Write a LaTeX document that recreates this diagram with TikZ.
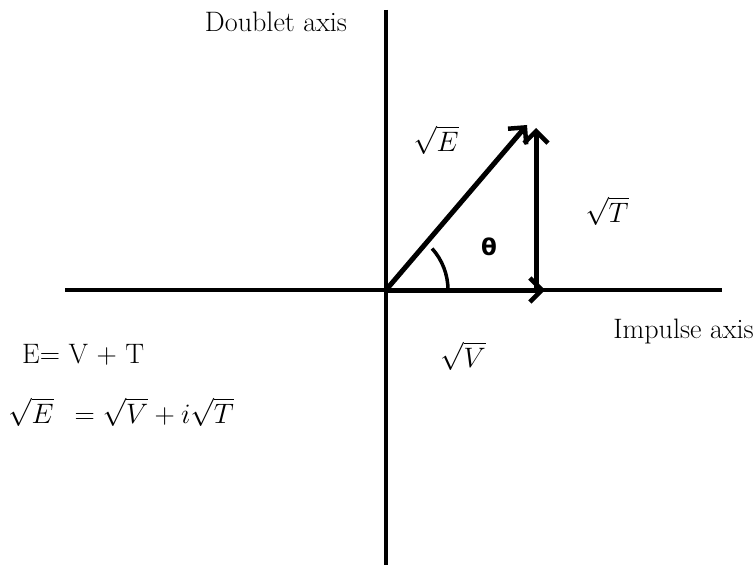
\documentclass[tikz,border=0pt]{standalone}
\usepackage{fontspec}
\newfontfamily\thetafont{DejaVu Sans}
\usetikzlibrary{arrows.meta}
\tikzset{
  lbl/.style={font=\Huge, scale=1.13, transform shape, inner sep=0pt},
  axis/.style={line width=4.5pt},
  vec/.style={line width=5pt, -{Straight Barb[length=12pt, width=24pt, line width=4.5pt]}}
}
\begin{document}
\begin{tikzpicture}[x=1pt, y=-1pt]
  \useasboundingbox (0,0) rectangle (756,567);

  % Assi
  \coordinate (O) at (386,290);
  \coordinate (xl) at (65,290);
  \coordinate (xr) at (722,290);
  \coordinate (yt) at (386,10);
  \coordinate (yb) at (386,565);
  \draw[axis] (xl) -- (xr);
  \draw[axis] (yt) -- (yb);
  \node[lbl] (doublet) at (276,22) {Doublet axis};
  \node[lbl, anchor=east] (impulse) at (754,331) {Impulse axis};

  % Vettori
  \coordinate (E) at (527,125);
  \coordinate (Vt) at (545,290);
  \coordinate (Tb) at (536,290);
  \coordinate (Tt) at (536,128);
  \draw[vec] (O) -- (E);
  \draw[vec] (Tb) -- (Tt);
  \draw[vec] (O) -- (Vt);

  % Angolo
  \draw[line width=3.5pt] ([xshift=62pt]O) arc[start angle=0, end angle=42, radius=62pt];
  \node[font=\thetafont\bfseries\fontsize{23}{26}\selectfont] (theta) at (489,247) {θ};

  % Etichette
  \node[lbl] (sqE) at (436,140) {$\sqrt{E}$};
  \node[lbl] (sqT) at (607,211) {$\sqrt{T}$};
  \node[lbl] (sqV) at (463,356) {$\sqrt{V}$};
  \node[lbl, anchor=west] (eq1) at (22,355) {E= V + T};
  \node[lbl, anchor=west] (eq2) at (8,412) {$\sqrt{E}\ \,=\sqrt{V}+i\sqrt{T}$};
\end{tikzpicture}
\end{document}
